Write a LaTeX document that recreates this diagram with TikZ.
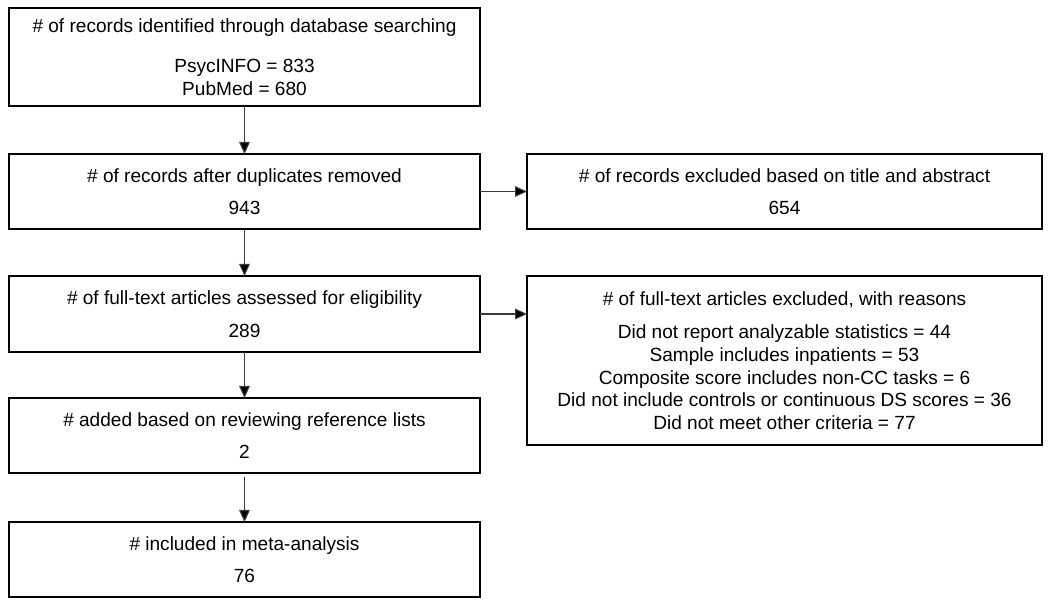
\documentclass[tikz,border=0pt]{standalone}
\usepackage{fontspec}
\setmainfont{Liberation Sans}
\usetikzlibrary{arrows.meta}

\tikzset{every picture/.style={line width=0.75pt}}
\tikzset{
  flowbox/.style={draw, line width=1.3pt, align=center, inner sep=0pt, outer sep=0pt,
    font=\fontsize{14.3}{17.1}\selectfont, text depth=0pt},
  flowarrow/.style={draw={rgb, 255:red, 60; green, 60; blue, 60}, line width=0.8pt,
    -{Triangle[length=9pt,width=8pt,fill=black]}}
}

\begin{document}
\begin{tikzpicture}[x=0.75pt,y=0.75pt,yscale=-1,xscale=1]
	%set diagram left start at 0, and has height of 605
	\useasboundingbox (0,0) rectangle (1050,605);
	
	%Shape: Rectangle [id:identified] 
	\node (ident) at (244.5,57) [flowbox, minimum width=353.25pt, minimum height=73.5pt]
	  {\# of records identified through database searching\\[13.5pt]PsycINFO = 833\\PubMed = 680};
	%Shape: Rectangle [id:dupes] 
	\node (dupes) at (244.5,191.5) [flowbox, minimum width=353.25pt, minimum height=56.25pt]
	  {\# of records after duplicates removed\\[7.5pt]943};
	%Shape: Rectangle [id:assessed] 
	\node (assessed) at (244.5,314) [flowbox, minimum width=353.25pt, minimum height=57pt]
	  {\# of full-text articles assessed for eligibility\\[7.5pt]289};
	%Shape: Rectangle [id:added] 
	\node (added) at (244.5,435.5) [flowbox, minimum width=353.25pt, minimum height=56.25pt]
	  {\# added based on reviewing reference lists\\[7.5pt]2};
	%Shape: Rectangle [id:included] 
	\node (included) at (244.5,559.5) [flowbox, minimum width=353.25pt, minimum height=56.25pt]
	  {\# included in meta-analysis\\[7.5pt]76};
	%Shape: Rectangle [id:exclabs] 
	\node (exclabs) at (784.5,191.5) [flowbox, minimum width=386.25pt, minimum height=56.25pt]
	  {\# of records excluded based on title and abstract\\[7.5pt]654};
	%Shape: Rectangle [id:exclfull] 
	\node (exclfull) at (784.5,360.5) [flowbox, minimum width=386.25pt, minimum height=126.75pt]
	  {\# of full-text articles excluded, with reasons\\[8pt]Did not report analyzable statistics = 44\\
	   Sample includes inpatients = 53\\Composite score includes non-CC tasks = 6\\
	   Did not include controls or continuous DS scores = 36\\Did not meet other criteria = 77};
	
	%Straight Lines 
	\draw [flowarrow] (ident) -- (dupes) ;
	\draw [flowarrow] (dupes) -- (assessed) ;
	\draw [flowarrow] (assessed) -- (added) ;
	\draw [flowarrow, shorten <=3pt] (added) -- (included) ;
	\draw [flowarrow] (dupes) -- (exclabs) ;
	\draw [flowarrow] (assessed.east) -- (assessed.east -| exclfull.west) ;
	
\end{tikzpicture}
\end{document}
